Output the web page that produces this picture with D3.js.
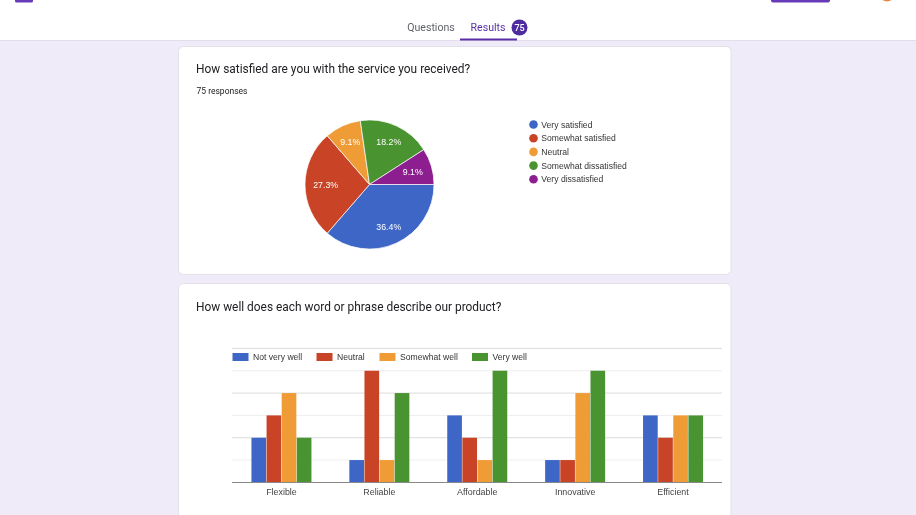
<!DOCTYPE html>
<html><head><meta charset="utf-8">
<script src="https://d3js.org/d3.v7.min.js"></script>
<style>html,body{margin:0;padding:0;background:#f0ebf8;overflow:hidden}svg{display:block;filter:blur(0.3px)}</style>
</head><body><svg id="c" width="916" height="515"></svg>
<script>
const pieCategories=["Very satisfied","Somewhat satisfied","Neutral","Somewhat dissatisfied","Very dissatisfied"];
const pieValues=[36.4,27.3,9.1,18.2,9.1];
const pieColors=["#3d66c6","#c94426","#f09c36","#4a9331","#8d1e8f"];
const barCategories=["Flexible","Reliable","Affordable","Innovative","Efficient"];
const barSeries=["Not very well","Neutral","Somewhat well","Very well"];
const notVeryWell=[2,1,3,1,3];
const neutral=[3,5,2,1,2];
const somewhatWell=[4,1,1,4,3];
const veryWell=[2,4,5,5,3];
const barColors=["#3d66c6","#c94426","#f09c36","#4a9331"];
const yTicks=[0,1,2,3,4,5,6];
const seriesValues=[notVeryWell,neutral,somewhatWell,veryWell];

const svg=d3.select("#c");
const sans="Roboto, sans-serif", arial="'Liberation Sans', Arial, sans-serif";
svg.append("rect").attr("width",916).attr("height",515).attr("fill","#f0ebf8");
svg.append("rect").attr("width",916).attr("height",40.5).attr("fill","#fff");
svg.append("line").attr("x1",0).attr("x2",916).attr("y1",40.5).attr("y2",40.5).attr("stroke","#e2deea");
svg.append("rect").attr("x",15).attr("y",-4).attr("width",18).attr("height",6.5).attr("rx",1.5).attr("fill","#673ab7");
svg.append("rect").attr("x",771).attr("y",-6).attr("width",59).attr("height",8.5).attr("rx",2).attr("fill","#673ab7");
svg.append("circle").attr("cx",887).attr("cy",-6).attr("r",7.5).attr("fill","#e8863c");
svg.append("text").attr("x",431).attr("y",31).attr("text-anchor","middle").attr("font-family",sans).attr("font-size",10.6).attr("fill","#5f6368").text("Questions");
svg.append("text").attr("x",488).attr("y",31).attr("text-anchor","middle").attr("font-family",sans).attr("font-size",10.6).attr("fill","#5b2fa8").text("Results");
svg.append("circle").attr("cx",519.5).attr("cy",27.5).attr("r",8).attr("fill","#4f2ba0");
svg.append("text").attr("x",519.5).attr("y",31).attr("text-anchor","middle").attr("font-family",sans).attr("font-size",9).attr("font-weight",500).attr("fill","#fff").text("75");
svg.append("rect").attr("x",460).attr("y",38.5).attr("width",57).attr("height",2).attr("fill","#5b2fa8");

function card(y,h){svg.append("rect").attr("x",178.5).attr("y",y+.5).attr("width",552.5).attr("height",h).attr("rx",5).attr("fill","#fff").attr("stroke","#e3e0e8");}
card(46,228);
card(283,260);
svg.append("text").attr("x",196).attr("y",73).attr("font-family",sans).attr("font-size",11.9).attr("fill","#202124").text("How satisfied are you with the service you received?");
svg.append("text").attr("x",196.5).attr("y",94).attr("font-family",sans).attr("font-size",8.5).attr("fill","#202124").text("75 responses");
svg.append("text").attr("x",196).attr("y",310.5).attr("font-family",sans).attr("font-size",11.9).attr("fill","#202124").text("How well does each word or phrase describe our product?");

// pie
const pieG=svg.append("g").attr("transform","translate(369.5,184.5)");
const R=64.5;
const labelRadius=[.72,.68,.72,.72,.70];
const pie=d3.pie().sort(null).startAngle(Math.PI/2).endAngle(Math.PI*2.5);
const arc=d3.arc().innerRadius(0).outerRadius(R);
const labelPos=(d,i)=>d3.arc().innerRadius(R*labelRadius[i]).outerRadius(R*labelRadius[i]).centroid(d);
const arcs=pie(pieValues);
pieG.selectAll("path").data(arcs).join("path").attr("d",arc).attr("fill",(d,i)=>pieColors[i]).attr("stroke","#fff").attr("stroke-width",.7);
pieG.selectAll("text").data(arcs).join("text")
 .attr("x",(d,i)=>labelPos(d,i)[0]).attr("y",(d,i)=>labelPos(d,i)[1]+3.2)
 .attr("text-anchor","middle").attr("font-family",arial).attr("font-size",8.8).attr("fill","#fff").text(d=>d.data.toFixed(1)+"%");
const pl=svg.append("g").selectAll("g").data(pieCategories).join("g").attr("transform",(d,i)=>`translate(533.5,${124.5+i*13.7})`);
pl.append("circle").attr("r",4.3).attr("fill",(d,i)=>pieColors[i]);
pl.append("text").attr("x",7.8).attr("y",3.1).attr("font-family",arial).attr("font-size",8.6).attr("fill","#333").text(d=>d);

// bars
const x=d3.scaleBand().domain(barCategories).range([232.5,722]);
const xs=d3.scaleBand().domain(barSeries).range([0,60]).paddingInner(.03);
const y=d3.scaleLinear().domain([0,6]).range([482.4,348.4]);
const plot=svg.append("g");
plot.selectAll("line.g").data(yTicks.slice(1)).join("line").attr("class","g")
 .attr("x1",232).attr("x2",722).attr("y1",d=>y(d)).attr("y2",d=>y(d))
 .attr("stroke",d=>d%2==0?"#dcdcdc":"#eeeeee").attr("stroke-width",1);
const groups=plot.selectAll("g.s").data(seriesValues).join("g").attr("class","s").attr("fill",(d,i)=>barColors[i]);
groups.each(function(vals,si){
 d3.select(this).selectAll("rect").data(vals).join("rect")
  .attr("x",(v,i)=>x(barCategories[i])+x.bandwidth()/2-30+xs(barSeries[si]))
  .attr("width",xs.bandwidth()).attr("y",v=>y(v)).attr("height",v=>y(0)-y(v));
});
const xAxis=d3.axisBottom(x).tickSize(0).tickPadding(6.5);
const ax=svg.append("g").attr("transform","translate(0,482)").call(xAxis);
ax.select(".domain").attr("stroke","#888").attr("d","M232,0.5H722");
ax.selectAll("text").attr("font-family",arial).attr("font-size",8.9).attr("fill","#444");
const lx=[232.5,316.5,379.5,472];
const bl=svg.append("g").selectAll("g").data(barSeries).join("g").attr("transform",(d,i)=>`translate(${lx[i]},353)`);
bl.append("rect").attr("width",16).attr("height",8).attr("fill",(d,i)=>barColors[i]);
bl.append("text").attr("x",20.5).attr("y",7.2).attr("font-family",arial).attr("font-size",8.6).attr("fill","#333").text(d=>d);
</script></body></html>
